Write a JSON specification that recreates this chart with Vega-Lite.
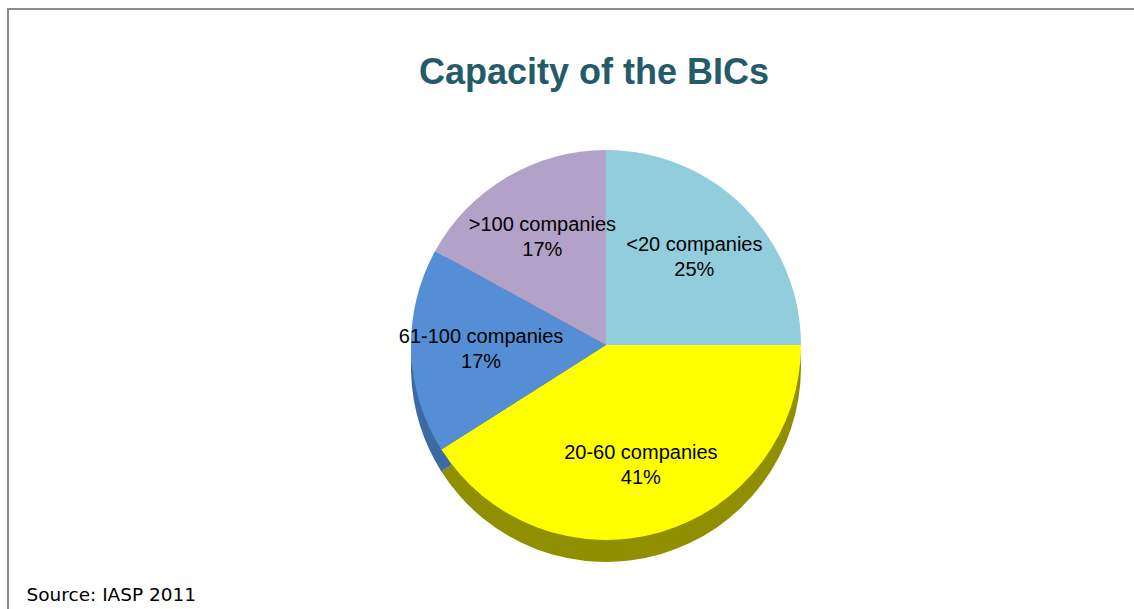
{
  "$schema": "https://vega.github.io/schema/vega-lite/v6.json",
  "width": 1132,
  "height": 604,
  "autosize": "none",
  "padding": {"left": 8, "top": 9, "right": 0, "bottom": 0},
  "background": "white",
  "config": {"view": {"stroke": "#8c8c8c", "strokeWidth": 2}},
  "title": {
    "text": "Capacity of the BICs",
    "font": "Liberation Sans",
    "fontSize": 36,
    "fontWeight": "bold",
    "color": "#245b6b",
    "anchor": "middle",
    "orient": "top",
    "baseline": "alphabetic",
    "offset": 0,
    "dy": 111,
    "dx": 20
  },
  "data": {
    "values": [
      {"category": "<20 companies", "share": 0.25, "idx": 1},
      {"category": "20-60 companies", "share": 0.41, "idx": 2},
      {"category": "61-100 companies", "share": 0.17, "idx": 3},
      {"category": ">100 companies", "share": 0.17, "idx": 4}
    ]
  },
  "layer": [
    {
      "mark": {"type": "point", "opacity": 0},
      "encoding": {
        "x": {
          "field": "share",
          "type": "quantitative",
          "axis": {
            "title": "Source: IASP 2011",
            "labels": false,
            "ticks": false,
            "domain": false,
            "grid": false,
            "titleFont": "DejaVu Sans",
            "titleFontSize": 18.5,
            "titleFontWeight": "normal",
            "titleColor": "#000000",
            "titleAnchor": "start",
            "titleAlign": "left",
            "titleBaseline": "alphabetic",
            "titleX": 18,
            "titleY": -13
          }
        }
      }
    },
    {
      "mark": {"type": "arc", "outerRadius": 195, "xOffset": 32, "yOffset": 56},
      "encoding": {
        "theta": {"field": "share", "type": "quantitative", "stack": true},
        "order": {"field": "idx", "type": "quantitative"},
        "fill": {
          "field": "category",
          "type": "nominal",
          "scale": {
            "domain": ["<20 companies", "20-60 companies", "61-100 companies", ">100 companies"],
            "range": ["#5f8d99", "#8f8f00", "#3d6aa3", "#7d6f92"]
          },
          "legend": null
        }
      }
    },
    {
      "mark": {"type": "arc", "outerRadius": 195, "xOffset": 32, "yOffset": 34},
      "encoding": {
        "theta": {"field": "share", "type": "quantitative", "stack": true},
        "order": {"field": "idx", "type": "quantitative"},
        "color": {
          "field": "category",
          "type": "nominal",
          "scale": {
            "domain": ["<20 companies", "20-60 companies", "61-100 companies", ">100 companies"],
            "range": ["#92CDDC", "#FFFF00", "#558ED5", "#B2A2C7"]
          },
          "legend": null
        }
      }
    },
    {
      "mark": {"type": "text", "radius": 125, "xOffset": 32, "yOffset": 34, "dy": -12, "font": "Liberation Sans", "fontSize": 20, "color": "#000000"},
      "encoding": {
        "theta": {"field": "share", "type": "quantitative", "stack": true},
        "order": {"field": "idx", "type": "quantitative"},
        "text": {"field": "category", "type": "nominal"}
      }
    },
    {
      "mark": {"type": "text", "radius": 125, "xOffset": 32, "yOffset": 34, "dy": 13, "font": "Liberation Sans", "fontSize": 20, "color": "#000000"},
      "encoding": {
        "theta": {"field": "share", "type": "quantitative", "stack": true},
        "order": {"field": "idx", "type": "quantitative"},
        "text": {"field": "share", "type": "quantitative", "format": ".0%"}
      }
    }
  ]
}
